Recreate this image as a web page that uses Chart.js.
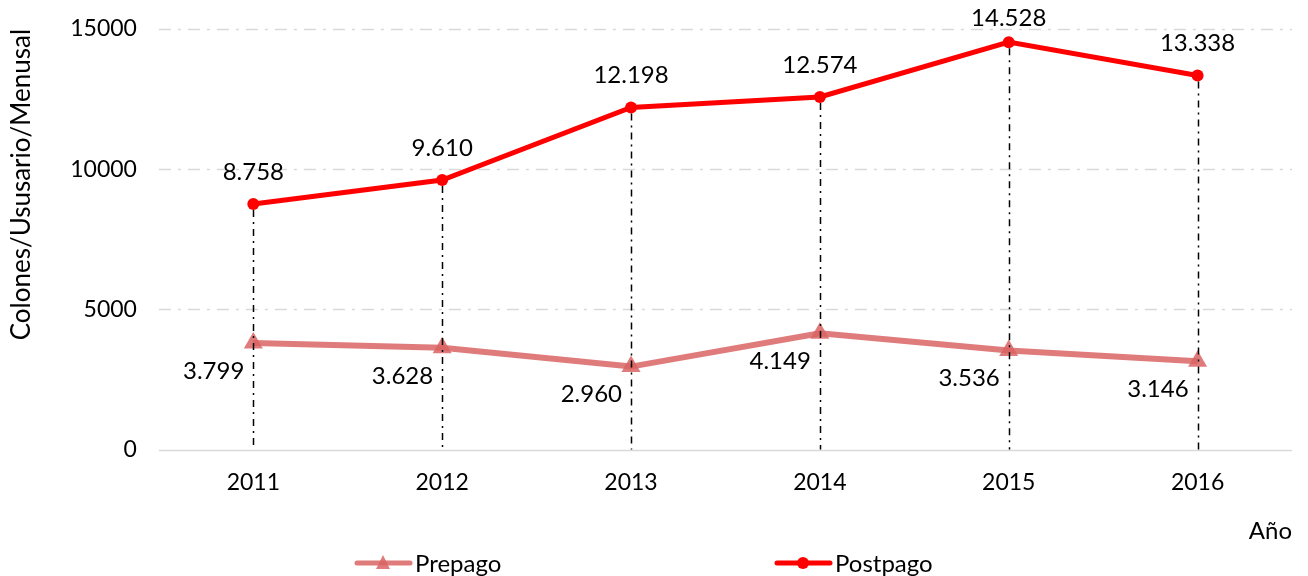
<!DOCTYPE html>
<html><head><meta charset="utf-8">
<script src="https://cdn.jsdelivr.net/npm/chart.js@4.4.0/dist/chart.umd.min.js"></script>
<style>html,body{margin:0;padding:0;background:#fff}#wrap{width:1308px;height:576px}</style>
</head><body><div id="wrap"><canvas id="c" width="1308" height="576"></canvas></div>
<script>
const categories = ['2011','2012','2013','2014','2015','2016'];
const prepago = [3799, 3628, 2960, 4149, 3536, 3146];
const postpago = [8758, 9610, 12198, 12574, 14528, 13338];
const yTicks = [0, 5000, 10000, 15000];
const FONT = 'Lato, "Open Sans", sans-serif';
const PRE_COLOR = 'rgba(218,100,100,0.85)';
const POST_COLOR = '#ff0000';

function fmt(v){ return String(v).replace(/\B(?=(\d{3})+(?!\d))/g, '.'); }

const gridPlugin = {
  id: 'grid',
  beforeDatasetsDraw(chart){
    const {ctx, chartArea:a, scales:{y}} = chart;
    ctx.save();
    ctx.strokeStyle = '#d9d9d9';
    ctx.lineWidth = 1.5;
    yTicks.forEach(v => {
      const py = Math.round(y.getPixelForValue(v)) + 0.5;
      ctx.setLineDash(v === 0 ? [] : [12, 7, 3, 7]);
      ctx.beginPath(); ctx.moveTo(a.left, py); ctx.lineTo(a.right, py); ctx.stroke();
    });
    ctx.restore();
  }
};

const overlayPlugin = {
  id: 'overlay',
  afterDatasetsDraw(chart){
    const {ctx, scales:{y}} = chart;
    const mPost = chart.getDatasetMeta(1), mPre = chart.getDatasetMeta(0);
    const y0 = y.getPixelForValue(0);
    ctx.save();
    // drop lines
    ctx.strokeStyle = '#000';
    ctx.lineWidth = 1.5;
    ctx.setLineDash([7, 5, 2, 5]);
    mPost.data.forEach(p => {
      const x = Math.round(p.x) + 0.5;
      ctx.beginPath(); ctx.moveTo(x, p.y + 6); ctx.lineTo(x, y0); ctx.stroke();
    });
    ctx.setLineDash([]);
    // labels
    ctx.fillStyle = '#000';
    ctx.font = '24px ' + FONT;
    ctx.textAlign = 'center'; ctx.textBaseline = 'middle';
    mPost.data.forEach((p, i) => { ctx.fillText(fmt(postpago[i]), p.x, Math.max(p.y - 32, 18)); });
    ctx.textAlign = 'right';
    mPre.data.forEach((p, i) => { ctx.fillText(fmt(prepago[i]), p.x - 9, p.y + 28); });
    // legend
    const ly = 563;
    const items = [
      {x: 355, label: 'Prepago', color: PRE_COLOR, tri: true},
      {x: 775, label: 'Postpago', color: POST_COLOR, tri: false}
    ];
    items.forEach(it => {
      ctx.strokeStyle = it.color; ctx.fillStyle = it.color; ctx.lineWidth = 5; ctx.lineCap = 'round';
      ctx.beginPath(); ctx.moveTo(it.x + 2, ly); ctx.lineTo(it.x + 55, ly); ctx.stroke();
      const cx = it.x + 28;
      if (it.tri) {
        ctx.beginPath(); ctx.moveTo(cx, ly - 8); ctx.lineTo(cx + 7, ly + 6); ctx.lineTo(cx - 7, ly + 6); ctx.closePath(); ctx.fill();
      } else {
        ctx.beginPath(); ctx.arc(cx, ly, 6, 0, Math.PI * 2); ctx.fill();
      }
      ctx.fillStyle = '#000'; ctx.textAlign = 'left'; ctx.font = '24px ' + FONT;
      ctx.fillText(it.label, it.x + 60, ly + 1);
    });
    ctx.restore();
  }
};

new Chart(document.getElementById('c'), {
  type: 'line',
  data: {
    labels: categories,
    datasets: [
      {label: 'Prepago', data: prepago, borderColor: PRE_COLOR, backgroundColor: PRE_COLOR,
       borderWidth: 6, pointStyle: 'triangle', pointRadius: 11, pointHoverRadius: 11, pointBorderWidth: 0, tension: 0},
      {label: 'Postpago', data: postpago, borderColor: POST_COLOR, backgroundColor: POST_COLOR,
       borderWidth: 5, pointStyle: 'circle', pointRadius: 6, pointHoverRadius: 6, pointBorderWidth: 0, tension: 0}
    ]
  },
  options: {
    responsive: false, animation: false, devicePixelRatio: 1,
    layout: {padding: {top: 8, right: 16, bottom: 30, left: 6}},
    plugins: {legend: {display: false}, tooltip: {enabled: false}},
    scales: {
      x: {
        offset: true,
        grid: {display: false, drawTicks: false},
        border: {display: false},
        ticks: {color: '#000', font: {family: FONT, size: 23}, padding: 19},
        title: {display: true, text: 'Año', align: 'end', color: '#000', font: {family: FONT, size: 24}, padding: {top: 2, bottom: 0}}
      },
      y: {
        min: 0, max: 15000,
        afterBuildTicks(s){ s.ticks = yTicks.map(v => ({value: v})); },
        grid: {display: false, drawTicks: false},
        border: {display: false},
        ticks: {color: '#000', font: {family: FONT, size: 23, lineHeight: 0.6}, padding: 22, callback: v => String(v)},
        title: {display: true, text: 'Colones/Ususario/Menusal', align: 'end', color: '#000', font: {family: FONT, size: 26}, padding: {top: 0, bottom: 11}}
      }
    }
  },
  plugins: [gridPlugin, overlayPlugin]
});
</script></body></html>
